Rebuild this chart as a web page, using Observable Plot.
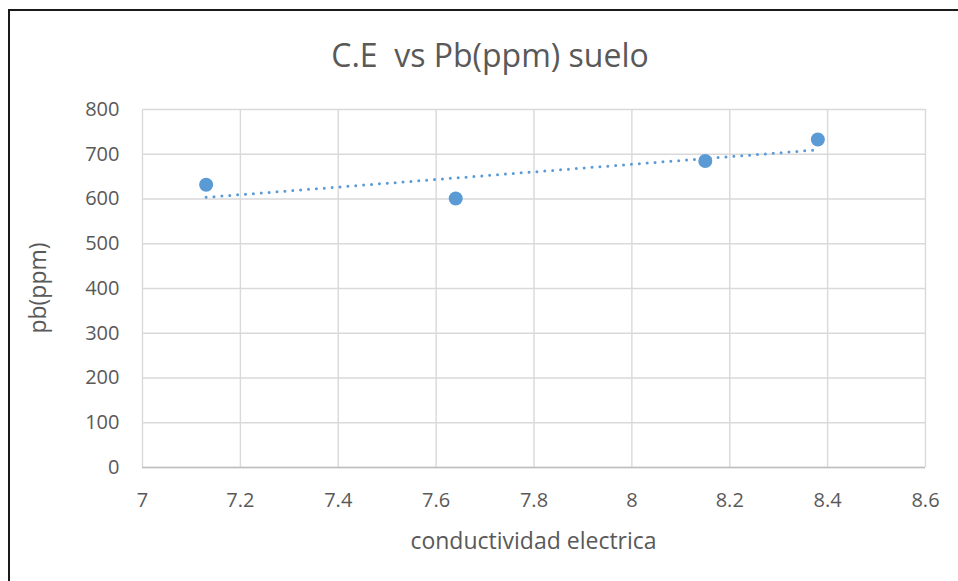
<!DOCTYPE html>
<html>
<head>
<meta charset="utf-8">
<script src="https://cdn.jsdelivr.net/npm/d3@7"></script>
<script src="https://cdn.jsdelivr.net/npm/@observablehq/plot@0.6"></script>
<style>
  html, body { margin: 0; padding: 0; background: #fff; }
  #chart { position: relative; width: 958px; height: 581px; overflow: hidden; font-family: "Open Sans", Lato, sans-serif; }
  #frame { position: absolute; left: 8px; top: 9px; width: 970px; height: 600px; border: 2px solid #1a1a1a; box-sizing: border-box; }
  #title { position: absolute; left: 0; width: 980px; top: 39px; line-height: 1; text-align: center; font-size: 32px; color: #595959; white-space: pre; }
  #xtitle { position: absolute; left: 142px; width: 783px; top: 529px; line-height: 1; text-align: center; font-size: 23px; color: #595959; }
  #ytitle { position: absolute; left: 37px; top: 288px; line-height: 1; transform: translate(-50%, -50%) rotate(-90deg); font-size: 23px; color: #595959; white-space: nowrap; }
  #chart svg { position: absolute; left: 0; top: 0; }
</style>
</head>
<body>
<div id="chart">
  <div id="frame"></div>
  <div id="title">C.E  vs Pb(ppm) suelo</div>
  <div id="xtitle">conductividad electrica</div>
  <div id="ytitle">pb(ppm)</div>
</div>
<script>
// Electrical conductivity vs lead concentration in soil
const conductividad = [7.13, 7.64, 8.15, 8.38];
const plomo = [632, 601, 685, 733];

const xTicks = [7, 7.2, 7.4, 7.6, 7.8, 8, 8.2, 8.4, 8.6];
const xTickLabels = ["7", "7.2", "7.4", "7.6", "7.8", "8", "8.2", "8.4", "8.6"];
const yTicks = [0, 100, 200, 300, 400, 500, 600, 700, 800];
const yTickLabels = ["0", "100", "200", "300", "400", "500", "600", "700", "800"];

const data = conductividad.map((x, i) => ({x, y: plomo[i]}));

const plot = Plot.plot({
  width: 958,
  height: 581,
  marginLeft: 142,
  marginRight: 33,
  marginTop: 109,
  marginBottom: 114,
  style: {fontFamily: "'Open Sans', Lato, sans-serif", fontSize: "20px", color: "#595959", background: "transparent"},
  x: {domain: [7, 8.6], label: null},
  y: {domain: [0, 800], label: null},
  marks: [
    Plot.gridX(xTicks, {stroke: "#d9d9d9", strokeOpacity: 1, strokeWidth: 1.4}),
    Plot.gridY(yTicks, {stroke: "#d9d9d9", strokeOpacity: 1, strokeWidth: 1.4}),
    Plot.ruleY([0], {stroke: "#bfbfbf", strokeWidth: 1.4}),
    Plot.axisX(xTicks, {tickSize: 0, tickPadding: 25, tickFormat: (d, i) => xTickLabels[i], fill: "#595959", fontSize: 20, label: null}),
    Plot.axisY(yTicks, {tickSize: 0, tickPadding: 23, tickFormat: (d, i) => yTickLabels[i], fill: "#595959", fontSize: 20, label: null}),
    Plot.linearRegressionY(data, {x: "x", y: "y", ci: 0, stroke: "#5b9bd5", strokeWidth: 3, strokeDasharray: "0 7.9", strokeLinecap: "round"}),
    Plot.dot(data, {x: "x", y: "y", r: 7, fill: "#5b9bd5", stroke: "none"})
  ]
});
document.getElementById("chart").appendChild(plot);
</script>
</body>
</html>
